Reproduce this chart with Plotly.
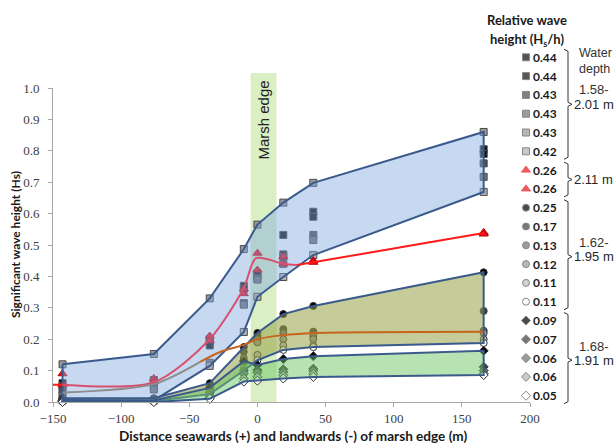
import plotly.graph_objects as go

# ---------------- data ----------------
distance = [-143, -76, -35, -10, 0, 19, 41, 166]

# squares: relative wave height 0.42-0.44 (water depth 1.58-2.01 m)
sq_044a = [0.06, 0.07, 0.19, 0.37, 0.41, 0.532, 0.606, 0.805]
sq_044b = [0.05, 0.06, 0.18, 0.36, 0.405, 0.47, 0.59, 0.79]
sq_043a = [0.035, 0.05, 0.20, 0.315, 0.395, 0.463, 0.532, 0.76]
sq_043b = [0.02, 0.04, 0.125, 0.31, 0.39, 0.44, 0.516, 0.717]
sq_043c = [0.12, 0.153, 0.33, 0.487, 0.565, 0.635, 0.698, 0.86]
sq_042 = [0.005, 0.005, 0.115, 0.223, 0.335, 0.398, 0.468, 0.669]

# triangles: 0.26 (2.11 m)
tri_026a = [0.09, 0.075, 0.21, 0.36, 0.474, 0.463, 0.45, 0.54]
tri_026b = [0.055, 0.065, 0.195, 0.345, 0.42, 0.44, 0.445, 0.535]

# circles: 0.11-0.25 (1.62-1.95 m)
ci_025 = [0.012, 0.012, 0.06, 0.175, 0.22, 0.28, 0.306, 0.413]
ci_017 = [0.010, 0.010, 0.05, 0.16, 0.21, 0.232, 0.224, 0.29]
ci_013 = [0.008, 0.008, 0.045, 0.14, 0.20, 0.22, 0.21, 0.227]
ci_012 = [0.006, 0.006, 0.04, 0.124, 0.19, 0.20, 0.20, 0.22]
ci_011a = [0.004, 0.004, 0.035, 0.11, 0.15, 0.18, 0.18, 0.20]
ci_011b = [0.002, 0.003, 0.025, 0.10, 0.133, 0.166, 0.175, 0.188]

# diamonds: 0.05-0.09 (1.68-1.91 m)
di_009 = [0.006, 0.005, 0.045, 0.13, 0.118, 0.137, 0.146, 0.163]
di_007 = [0.004, 0.004, 0.03, 0.10, 0.102, 0.104, 0.106, 0.112]
di_006a = [0.003, 0.003, 0.02, 0.09, 0.094, 0.095, 0.10, 0.10]
di_006b = [0.002, 0.002, 0.015, 0.075, 0.08, 0.085, 0.09, 0.09]
di_005 = [0.0, 0.0, 0.01, 0.065, 0.068, 0.075, 0.08, 0.086]

# smoothed trend lines
pink_x = [-143, -76, -35, -10, -1, 19, 29]
pink_y = [0.055, 0.063, 0.20, 0.363, 0.458, 0.44, 0.436]
gray_x = [-143, -76, -42]
gray_y = [0.03, 0.057, 0.128]
orange_x = [-42, -27, -10, 0, 19, 41, 166]
orange_y = [0.128, 0.16, 0.182, 0.20, 0.213, 0.22, 0.224]
red_x = [-150, -143, None, 29, 166]
red_y = [0.055, 0.055, None, 0.436, 0.538]

marsh_edge = [-5, 14]

legend_rows = [
    ("square", "#0d0d0d", "0.44"), ("square", "#111111", "0.44"),
    ("square", "#4d4d4d", "0.43"), ("square", "#737373", "0.43"),
    ("square", "#999999", "0.43"), ("square", "#b3b3b3", "0.42"),
    ("triangle-up", "#e8141c", "0.26"), ("triangle-up", "#e8141c", "0.26"),
    ("circle", "#000000", "0.25"), ("circle", "#404040", "0.17"),
    ("circle", "#737373", "0.13"), ("circle", "#999999", "0.12"),
    ("circle", "#bfbfbf", "0.11"), ("circle", "#ffffff", "0.11"),
    ("diamond", "#000000", "0.09"), ("diamond", "#404040", "0.07"),
    ("diamond", "#737373", "0.06"), ("diamond", "#b3b3b3", "0.06"),
    ("diamond", "#ffffff", "0.05"),
]

depth_groups = [
    (["Water", "depth", "1.58-"], "2.01 m", 0, 5),
    ([], "2.11 m", 6, 7),
    (["1.62-"], "1.95 m", 8, 13),
    (["1.68-"], "1.91 m", 14, 18),
]

# ---------------- layout helpers (pixel -> paper) ----------------
W, H = 616, 443
PL, PR, PT, PB = 53, 530, 88, 402
XMIN, XMAX = -150, 200


def fx(px):
    return px / W


def fy(py):
    return 1 - py / H


ROW0, ROWSTEP = 57.3, 18.8
row_y = [ROW0 + i * ROWSTEP for i in range(len(legend_rows))]

fig = go.Figure()

BAND_LINE = "#3b5a8c"


def add_markers(series, symbol, colors, size, lcol):
    for vals, c in zip(series, colors):
        fig.add_trace(go.Scatter(x=distance, y=vals, mode="markers",
                                 marker=dict(symbol=symbol, size=size, color=c,
                                             line=dict(color=lcol, width=1)),
                                 showlegend=False, cliponaxis=False))


squares = [sq_044a, sq_044b, sq_043a, sq_043b, sq_043c, sq_042]
triangles = [tri_026a, tri_026b]
circles = [ci_025, ci_017, ci_013, ci_012, ci_011a, ci_011b]
diamonds = [di_009, di_007, di_006a, di_006b, di_005]

add_markers(squares, "square", [r[1] for r in legend_rows[0:6]], 7, "#4a4a4a")
add_markers(triangles, "triangle-up", [r[1] for r in legend_rows[6:8]], 8, "#c00000")
add_markers(circles, "circle", [r[1] for r in legend_rows[8:14]], 7, "#333333")
add_markers(diamonds, "diamond", [r[1] for r in legend_rows[14:19]], 7, "#333333")


def add_band(series, fillcolor):
    upper = [max(v) for v in zip(*series)]
    lower = [min(v) for v in zip(*series)]
    xs = distance + distance[::-1] + [distance[0]]
    ys = upper + lower[::-1] + [upper[0]]
    fig.add_trace(go.Scatter(x=xs, y=ys, mode="lines", fill="toself",
                             fillcolor=fillcolor,
                             line=dict(color=BAND_LINE, width=2),
                             showlegend=False, cliponaxis=False))


add_band(squares, "rgba(130,170,225,0.45)")
add_band(circles, "rgba(150,160,70,0.55)")
add_band(diamonds, "rgba(110,200,100,0.5)")

fig.add_trace(go.Scatter(x=pink_x, y=pink_y, mode="lines",
                         line=dict(color="#d9506f", width=2, shape="spline", smoothing=0.8),
                         showlegend=False))
fig.add_trace(go.Scatter(x=gray_x, y=gray_y, mode="lines",
                         line=dict(color="#8c8c8c", width=2, shape="spline", smoothing=0.8),
                         showlegend=False))
fig.add_trace(go.Scatter(x=orange_x, y=orange_y, mode="lines",
                         line=dict(color="#c8641e", width=2, shape="spline", smoothing=0.8),
                         showlegend=False))
fig.add_trace(go.Scatter(x=red_x, y=red_y, mode="lines",
                         line=dict(color="#ff1a1a", width=2),
                         showlegend=False, cliponaxis=False))

# legend markers on a hidden full-figure overlay axis (pixel units)
LEG_X = 526
fig.add_trace(go.Scatter(
    x=[LEG_X] * len(legend_rows),
    y=row_y,
    xaxis="x2", yaxis="y2",
    mode="markers",
    marker=dict(symbol=[r[0] for r in legend_rows],
                color=[r[1] for r in legend_rows],
                size=[7 if r[0] != "triangle-up" else 8 for r in legend_rows],
                line=dict(color=["#555555" if r[0] != "triangle-up" else "#e8141c" for r in legend_rows], width=1)),
    showlegend=False, hoverinfo="skip"))

annotations = []
for (sym, col, lab), py in zip(legend_rows, row_y):
    annotations.append(dict(x=fx(531), y=fy(py), xref="paper", yref="paper",
                            text=lab, showarrow=False, xanchor="left", yanchor="middle",
                            font=dict(family="Lato", size=12, color="#1a1a1a", weight="bold")))

annotations.append(dict(x=fx(527), y=fy(20), xref="paper", yref="paper",
                        text="Relative wave", showarrow=False, xanchor="center", yanchor="middle",
                        font=dict(family="Lato", size=13, color="#1a1a1a", weight="bold")))
annotations.append(dict(x=fx(527), y=fy(40), xref="paper", yref="paper",
                        text="height (H<sub>s</sub>/h)", showarrow=False, xanchor="center", yanchor="middle",
                        font=dict(family="Lato", size=13, color="#1a1a1a", weight="bold")))

shapes = []
BR_X = 568
for extra, label, i0, i1 in depth_groups:
    top = row_y[i0] - 8
    bot = row_y[i1] + 8
    if extra and extra[0] == "Water":
        mid = row_y[i0] + 47
    elif extra:
        mid = (top + bot) / 2 + 2
    else:
        mid = (top + bot) / 2
    path = (f"M {fx(BR_X-4)},{fy(top)} L {fx(BR_X)},{fy(top+2)} L {fx(BR_X)},{fy(mid-2)} "
            f"L {fx(BR_X+4)},{fy(mid)} L {fx(BR_X)},{fy(mid+2)} L {fx(BR_X)},{fy(bot-2)} "
            f"L {fx(BR_X-4)},{fy(bot)}")
    shapes.append(dict(type="path", path=path, xref="paper", yref="paper",
                       line=dict(color="#333333", width=1)))
    annotations.append(dict(x=fx(BR_X + 4), y=fy(mid), xref="paper", yref="paper",
                            text=label, showarrow=False, xanchor="left", yanchor="middle",
                            font=dict(family="Liberation Sans", size=13, color="#262626")))
    if extra:
        offs = [-51, -35, -15] if extra[0] == "Water" else [-14]
        for t, o in zip(extra, offs):
            sz = 12.5 if t in ("Water", "depth") else 13
            annotations.append(dict(x=fx(BR_X + 9), y=fy(mid + o), xref="paper", yref="paper",
                                    text=t, showarrow=False, xanchor="left", yanchor="middle",
                                    font=dict(family="Liberation Sans", size=sz, color="#333333")))

# marsh edge band
shapes.append(dict(type="rect", xref="x", yref="paper", x0=marsh_edge[0], x1=marsh_edge[1],
                   y0=fy(PB), y1=fy(73), fillcolor="rgba(190,225,150,0.55)", line=dict(width=0),
                   layer="below"))
annotations.append(dict(x=sum(marsh_edge) / 2, y=fy(120), xref="x", yref="paper",
                        text="Marsh edge", textangle=-90, showarrow=False,
                        xanchor="center", yanchor="middle",
                        font=dict(family="Liberation Sans", size=15, color="#222222")))

# axis titles
annotations.append(dict(x=fx(15), y=fy((PT + PB) / 2), xref="paper", yref="paper",
                        text="Significant wave height (Hs)", textangle=-90, showarrow=False,
                        xanchor="center", yanchor="middle",
                        font=dict(family="Lato", size=12, color="#1a1a1a", weight="bold")))
annotations.append(dict(x=fx((PL + PR) / 2 + 2), y=fy(436), xref="paper", yref="paper",
                        text="Distance seawards (+) and landwards (-) of marsh edge (m)",
                        showarrow=False, xanchor="center", yanchor="middle",
                        font=dict(family="Lato", size=13.6, color="#1a1a1a", weight="bold")))

fig.update_layout(
    width=W, height=H,
    margin=dict(l=0, r=0, t=0, b=0, autoexpand=False),
    plot_bgcolor="rgba(0,0,0,0)", paper_bgcolor="white",
    showlegend=False,
    shapes=shapes, annotations=annotations,
    xaxis=dict(domain=[fx(PL), fx(PR)], anchor="y",
               range=[XMIN, XMAX], tickvals=[-150, -100, -50, 0, 50, 100, 150, 200],
               showline=True, linecolor="#a6a6a6", linewidth=1, ticks="outside",
               ticklen=4, tickcolor="#a6a6a6", showgrid=False, zeroline=False,
               tickfont=dict(family="Liberation Serif", size=13, color="#404040"),
               ticklabelstandoff=0, automargin=False),
    yaxis=dict(domain=[fy(PB), fy(PT)], anchor="x",
               range=[0, 1], tickvals=[i / 10 for i in range(11)], tickformat=".1f",
               showline=True, linecolor="#a6a6a6", linewidth=1, ticks="outside",
               ticklen=4, tickcolor="#a6a6a6", showgrid=False, zeroline=False,
               tickfont=dict(family="Liberation Serif", size=13, color="#404040"),
               ticklabelstandoff=6, automargin=False),
    xaxis2=dict(domain=[0, 1], range=[0, W], anchor="y2", visible=False,
                fixedrange=True),
    yaxis2=dict(domain=[0, 1], range=[H, 0], anchor="x2", visible=False,
                fixedrange=True),
)

fig.write_html("out.html", config={"displayModeBar": False},
               post_script="document.body.style.margin='0px';")
